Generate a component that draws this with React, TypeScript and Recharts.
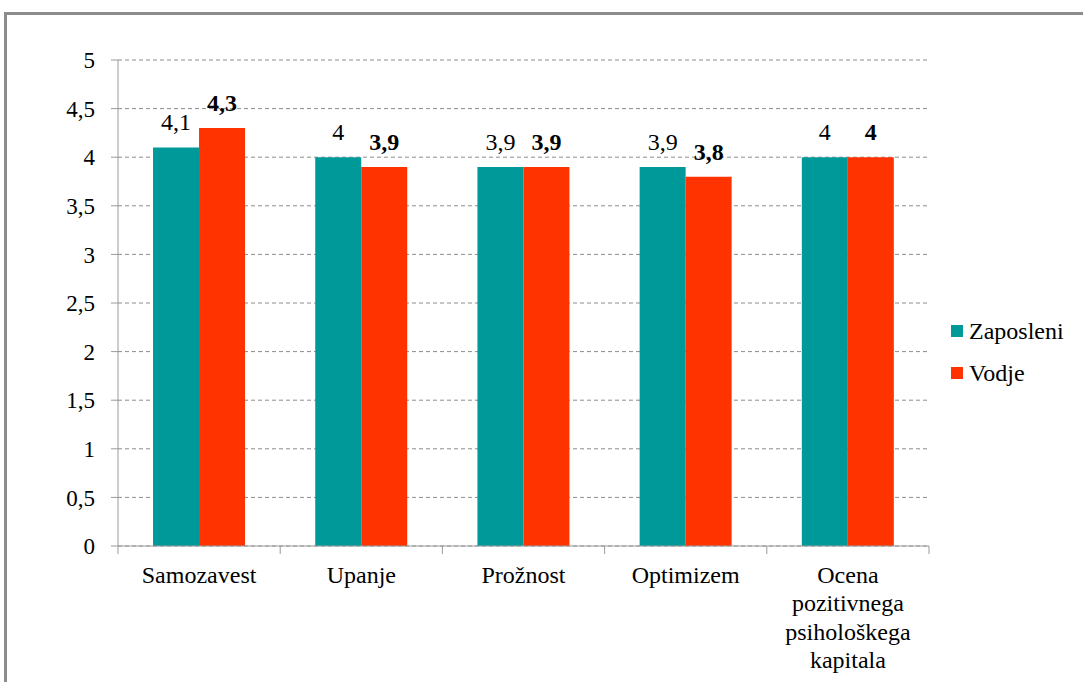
import {
  BarChart,
  Bar,
  XAxis,
  YAxis,
  CartesianGrid,
  LabelList,
} from "recharts";

const categories = [
  "Samozavest",
  "Upanje",
  "Prožnost",
  "Optimizem",
  "Ocena pozitivnega psihološkega kapitala",
];
const zaposleni = [4.1, 4, 3.9, 3.9, 4];
const vodje = [4.3, 3.9, 3.9, 3.8, 4];
const yTicks = [0, 0.5, 1, 1.5, 2, 2.5, 3, 3.5, 4, 4.5, 5];
const seriesNames = ["Zaposleni", "Vodje"];

const data = categories.map((name, i) => ({
  name,
  zaposleni: zaposleni[i],
  vodje: vodje[i],
}));

const TEAL = "#009999";
const RED = "#FF3300";
const FONT = "Liberation Serif";
const AXIS = "#9a9a9a";
const FS = 24;

const W = 1083;
const H = 682;
const margin = { top: 60, right: 154, bottom: 4, left: 58 };
const yAxisWidth = 60;
const band = (W - margin.left - yAxisWidth - margin.right) / categories.length;

const comma = (v: number) => String(v).replace(".", ",");

// long names go one word per line, like the Excel original
function wrap(label: string): string[] {
  if (label.length < 14) return [label];
  return label.split(" ");
}

function CategoryTick(props: any) {
  const { x, y, payload, index } = props;
  const lines = wrap(payload.value);
  const top = y - 8;
  return (
    <g>
      <line x1={x - band / 2} x2={x - band / 2} y1={top} y2={top + 8} stroke={AXIS} />
      {index === categories.length - 1 && (
        <line x1={x + band / 2} x2={x + band / 2} y1={top} y2={top + 8} stroke={AXIS} />
      )}
      <text
        x={x}
        y={top + 37}
        textAnchor="middle"
        fontFamily={FONT}
        fontSize={FS}
        fill="#000"
      >
        {lines.map((l, i) => (
          <tspan key={i} x={x} dy={i === 0 ? 0 : 28.3}>
            {l}
          </tspan>
        ))}
      </text>
    </g>
  );
}

function LegendBox() {
  const colors = [TEAL, RED];
  return (
    <div
      style={{
        position: "absolute",
        left: 951,
        top: 310,
        fontFamily: `"${FONT}"`,
        fontSize: FS,
        color: "#000",
      }}
    >
      {seriesNames.map((label, i) => (
        <div key={label} style={{ display: "flex", alignItems: "center", height: 42 }}>
          <span
            style={{
              display: "inline-block",
              width: 12,
              height: 12,
              background: colors[i],
              marginRight: 6,
            }}
          />
          <span>{label}</span>
        </div>
      ))}
    </div>
  );
}

export default function App() {
  return (
    <div
      style={{
        position: "fixed",
        left: 0,
        top: 0,
        width: W,
        height: H,
        overflow: "hidden",
        background: "#fff",
      }}
    >
      <div
        style={{
          position: "absolute",
          left: 4,
          top: 12,
          width: W + 40,
          height: H + 40,
          borderLeft: "3px solid #8c8c8c",
          borderTop: "3px solid #8c8c8c",
        }}
      />
      <div style={{ position: "absolute", left: 0, top: 0 }}>
        <BarChart
          width={W}
          height={H}
          data={data}
          margin={margin}
          barGap={0}
          barCategoryGap="21.6%"
        >
          <CartesianGrid vertical={false} stroke="#8c8c8c" strokeDasharray="4 3" />
          <XAxis
            dataKey="name"
            height={132}
            interval={0}
            tickLine={false}
            axisLine={{ stroke: AXIS }}
            tick={<CategoryTick />}
          />
          <YAxis
            width={yAxisWidth}
            domain={[0, 5]}
            ticks={yTicks}
            interval={0}
            tickFormatter={comma}
            axisLine={{ stroke: AXIS }}
            tickLine={{ stroke: AXIS }}
            tickSize={7}
            tickMargin={16}
            tick={{ fill: "#000", fontSize: 23, fontFamily: FONT }}
          />
          <Bar dataKey="zaposleni" name={seriesNames[0]} fill={TEAL} isAnimationActive={false}>
            <LabelList
              dataKey="zaposleni"
              position="top"
              offset={17}
              formatter={comma}
              fontFamily={FONT}
              fontSize={FS}
              fill="#000"
            />
          </Bar>
          <Bar dataKey="vodje" name={seriesNames[1]} fill={RED} isAnimationActive={false}>
            <LabelList
              dataKey="vodje"
              position="top"
              offset={17}
              formatter={comma}
              fontFamily={FONT}
              fontSize={FS}
              fontWeight="bold"
              fill="#000"
            />
          </Bar>
        </BarChart>
      </div>
      <LegendBox />
    </div>
  );
}
